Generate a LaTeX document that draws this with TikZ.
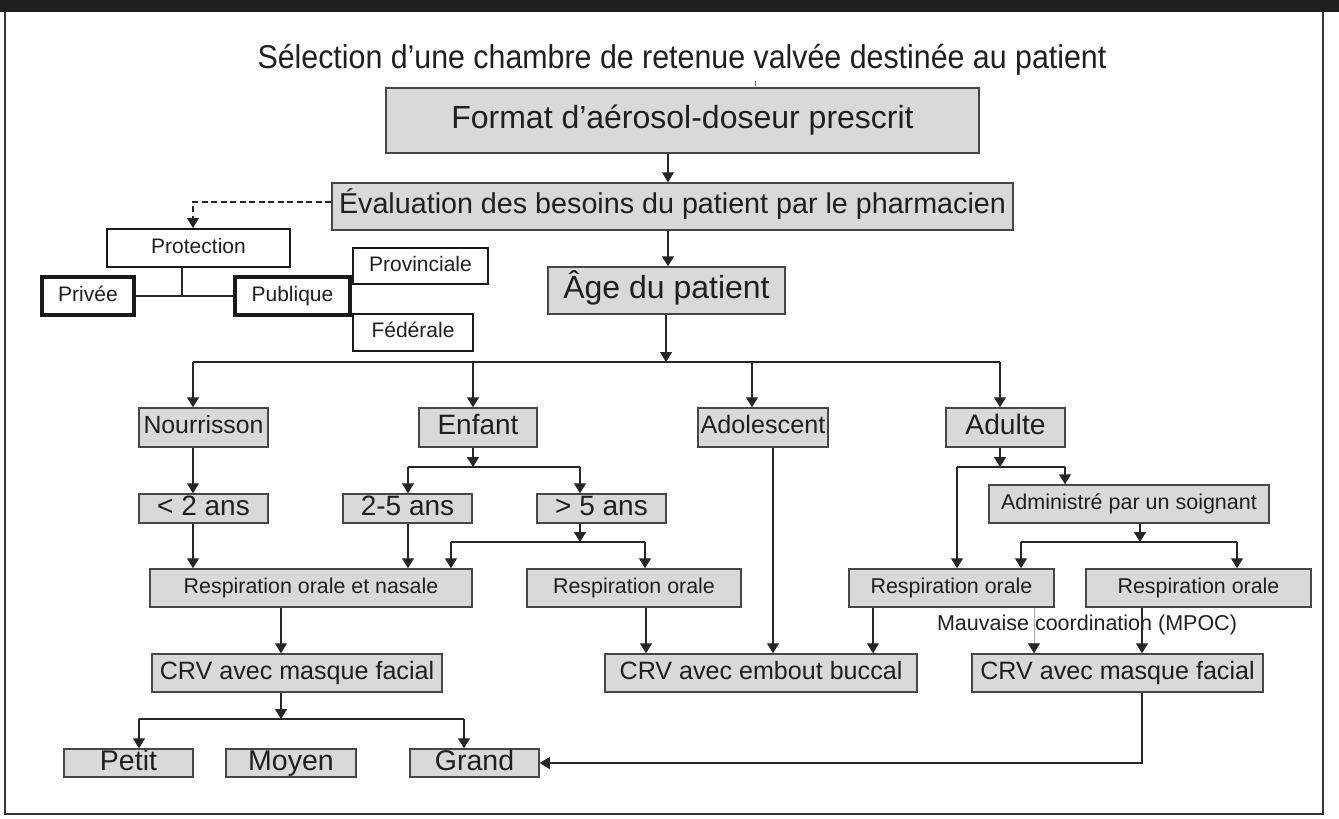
\documentclass[tikz,border=0pt]{standalone}
\usepackage{fontspec}
\setmainfont{Liberation Sans}
\usetikzlibrary{arrows.meta}
\newcommand\fsz[1]{\fontsize{#1}{#1}\selectfont}
\begin{document}
\begin{tikzpicture}[x=1pt,y=-1pt,
  fs/.code={\pgfmathsetmacro\fsth{0.72*#1}\pgfmathsetmacro\fstd{0.21*#1}%
    \edef\fsnext{\noexpand\tikzset{font=\noexpand\fsz{#1}, text height=\fsth pt, text depth=\fstd pt}}\fsnext},
  gbox/.style={draw=black!72, line width=1.5pt, fill=black!15, inner sep=0pt, text=black!88},
  wbox/.style={draw=black!90, line width=2pt, fill=white, inner sep=0pt, text=black!88, fs=21},
  tbox/.style={draw=black!90, line width=3.5pt, fill=white, inner sep=0pt, text=black!88, fs=21},
  arr/.style={-{Triangle[width=12pt,length=10pt]}, line width=1.4pt, draw=black!85},
  ln/.style={line width=1.4pt, draw=black!85},
]
\useasboundingbox (0,0) rectangle (1339,819);
\fill[black!88] (0,0) rectangle (1339,12);
\draw[line width=1.6pt, black!80] (5,12) -- (5,814) -- (1323,814) -- (1323,12);

\node[anchor=base, inner sep=0pt, text=black!88, font=\fsz{33}] (title) at (682,68)
  {\scalebox{0.92}[1]{Sélection d’une chambre de retenue valvée destinée au patient}};
\draw[line width=1pt, black!60] (755,81) -- (755,86);

% main column
\node[gbox, minimum width=593pt, minimum height=65pt, fs=32] (fmt) at (682.5,120.5) {Format d’aérosol-doseur prescrit};
\node[gbox, minimum width=681pt, minimum height=47pt, fs=28.7] (eval) at (672.5,206.5) {Évaluation des besoins du patient par le pharmacien};
\node[gbox, minimum width=237pt, minimum height=47pt, fs=32] (age) at (666.5,290.5) {Âge du patient};

% coverage cluster
\node[wbox, minimum width=183pt, minimum height=38pt] (prot) at (198.5,248) {Protection};
\node[tbox, minimum width=92pt, minimum height=38pt] (priv) at (88,296) {Privée};
\node[tbox, minimum width=115pt, minimum height=38pt] (pub) at (292.5,296) {Publique};
\node[wbox, minimum width=135pt, minimum height=36pt] (prov) at (420.5,266) {Provinciale};
\node[wbox, minimum width=120pt, minimum height=37pt] (fed) at (413,332.5) {Fédérale};

% age groups
\node[gbox, minimum width=129pt, minimum height=39pt, fs=24.8] (nour) at (203.5,427.5) {Nourrisson};
\node[gbox, minimum width=118pt, minimum height=39pt, fs=28] (enf) at (478,427.5) {Enfant};
\node[gbox, minimum width=130pt, minimum height=39pt, fs=25.2] (ado) at (763,427.5) {Adolescent};
\node[gbox, minimum width=119pt, minimum height=39pt, fs=28.3] (adu) at (1005.5,427.5) {Adulte};

\node[gbox, minimum width=129pt, minimum height=29pt, fs=28] (lt2) at (203.5,508.5) {< 2 ans};
\node[gbox, minimum width=129pt, minimum height=29pt, fs=28] (a25) at (407.5,508.5) {2-5 ans};
\node[gbox, minimum width=129pt, minimum height=29pt, fs=28] (gt5) at (601.5,508.5) {> 5 ans};
\node[gbox, minimum width=280pt, minimum height=38pt, fs=21.5] (adm) at (1129,504) {Administré par un soignant};

\node[gbox, minimum width=322pt, minimum height=38pt, fs=21.4] (ron) at (311,588) {Respiration orale et nasale};
\node[gbox, minimum width=214pt, minimum height=38pt, fs=21.4] (rom) at (634,588) {Respiration orale};
\node[gbox, minimum width=205pt, minimum height=38pt, fs=21.4] (roal) at (951.5,588) {Respiration orale};
\node[gbox, minimum width=225pt, minimum height=38pt, fs=21.4] (roar) at (1198.5,588) {Respiration orale};

\node[gbox, minimum width=290pt, minimum height=38pt, fs=25.1] (crvl) at (297,673) {CRV avec masque facial};
\node[gbox, minimum width=312pt, minimum height=38pt, fs=25.1] (crve) at (761,673) {CRV avec embout buccal};
\node[gbox, minimum width=291pt, minimum height=38pt, fs=25.1] (crvr) at (1117.5,673) {CRV avec masque facial};

\node[gbox, minimum width=129pt, minimum height=28pt, fs=28.5] (petit) at (128.5,763) {Petit};
\node[gbox, minimum width=130pt, minimum height=28pt, fs=28.5] (moyen) at (291,763) {Moyen};
\node[gbox, minimum width=129pt, minimum height=28pt, fs=28.5] (grand) at (474.5,763) {Grand};

\node[inner sep=0pt, text=black!88, fs=21.5] (mauv) at (1087,625) {Mauvaise coordination (MPOC)};

% junction coordinates
\coordinate (c1) at (668,0);
\coordinate (p0) at (193,202);
\coordinate (q0) at (182,0);
\coordinate (h0) at (666,362);
\coordinate (h1) at (193,362);
\coordinate (h2) at (473,362);
\coordinate (h3) at (752,362);
\coordinate (h4) at (1000,362);
\coordinate (e0) at (473,467);
\coordinate (e1) at (408,467);
\coordinate (e2) at (580,467);
\coordinate (g0) at (580,542);
\coordinate (g1) at (451,542);
\coordinate (g2) at (645,542);
\coordinate (a0) at (1000,467);
\coordinate (a1) at (957,467);
\coordinate (a2) at (1065,467);
\coordinate (m0) at (1140,542);
\coordinate (m1) at (1021,542);
\coordinate (m2) at (1237,542);
\coordinate (d1) at (773,0);
\coordinate (k1) at (281,0);
\coordinate (k2) at (646,0);
\coordinate (k3) at (873,0);
\coordinate (k4) at (1034,0);
\coordinate (k5) at (1142,0);
\coordinate (b0) at (281,719);
\coordinate (b1) at (139,719);
\coordinate (b2) at (464,719);

% connectors
\draw[arr] (c1 |- fmt.south) -- (c1 |- eval.north);
\draw[arr] (c1 |- eval.south) -- (c1 |- age.north);
\draw[arr, dash pattern=on 6pt off 3.5pt] (p0 -| eval.west) -- (p0) -- (p0 |- prot.north);
\draw[ln] (q0 |- prot.south) -- (q0 |- priv.east);
\draw[ln] (priv.east) -- (pub.west);

\draw[arr] (h0 |- age.south) -- (h0);
\draw[ln] (h1) -- (h4);
\draw[arr] (h1) -- (h1 |- nour.north);
\draw[arr] (h2) -- (h2 |- enf.north);
\draw[arr] (h3) -- (h3 |- ado.north);
\draw[arr] (h4) -- (h4 |- adu.north);

\draw[arr] (h1 |- nour.south) -- (h1 |- lt2.north);
\draw[arr] (e0 |- enf.south) -- (e0);
\draw[ln] (e1) -- (e2);
\draw[arr] (e1) -- (e1 |- a25.north);
\draw[arr] (e2) -- (e2 |- gt5.north);

\draw[arr] (g0 |- gt5.south) -- (g0);
\draw[ln] (g1) -- (g2);
\draw[arr] (g1) -- (g1 |- ron.north);
\draw[arr] (g2) -- (g2 |- rom.north);
\draw[arr] (h1 |- lt2.south) -- (h1 |- ron.north);
\draw[arr] (e1 |- a25.south) -- (e1 |- ron.north);

\draw[arr] (a0 |- adu.south) -- (a0);
\draw[ln] (a1) -- (a2);
\draw[arr] (a1) -- (a1 |- roal.north);
\draw[arr] (a2) -- (a2 |- adm.north);
\draw[arr] (m0 |- adm.south) -- (m0);
\draw[ln] (m1) -- (m2);
\draw[arr] (m1) -- (m1 |- roal.north);
\draw[arr] (m2) -- (m2 |- roar.north);

\draw[arr] (d1 |- ado.south) -- (d1 |- crve.north);
\draw[arr] (k1 |- ron.south) -- (k1 |- crvl.north);
\draw[arr] (k2 |- rom.south) -- (k2 |- crve.north);
\draw[arr] (k3 |- roal.south) -- (k3 |- crve.north);
\draw[-{Triangle[width=12pt,length=10pt,color=black!85]}, line width=0.8pt, draw=black!35] (k4 |- roal.south) -- (k4 |- crvr.north);
\draw[arr] (k5 |- roar.south) -- (k5 |- crvr.north);

\draw[arr] (b0 |- crvl.south) -- (b0);
\draw[ln] (b1) -- (b2);
\draw[arr] (b1) -- (b1 |- petit.north);
\draw[arr] (b2) -- (b2 |- grand.north);
\draw[arr] (k5 |- crvr.south) |- (grand.east);
\end{tikzpicture}
\end{document}
